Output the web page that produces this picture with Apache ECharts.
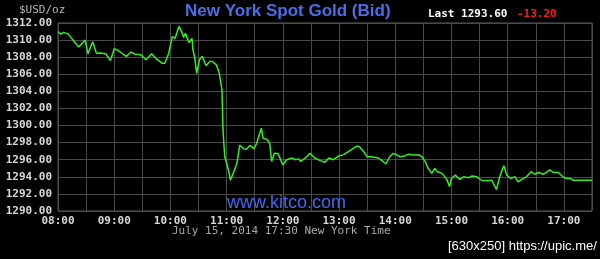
<!DOCTYPE html>
<html><head><meta charset="utf-8">
<script src="https://cdn.jsdelivr.net/npm/echarts@6/dist/echarts.min.js"></script>
<style>html,body{margin:0;padding:0;background:#000}#c{width:600px;height:259px}</style>
</head><body><div id="c"></div>
<script>
const times = ["08:00","08:03","08:06","08:11","08:16","08:22","08:25","08:29","08:32","08:37","08:41","08:45","08:51","08:56","09:00","09:04","09:09","09:13","09:18","09:22","09:28","09:30","09:34","09:40","09:45","09:51","09:54","09:58","10:00","10:02","10:05","10:09","10:12","10:14","10:16","10:18","10:20","10:23","10:24","10:26","10:28","10:31","10:34","10:38","10:42","10:45","10:49","10:52","10:54","10:55","10:56","10:57","10:58","11:02","11:04","11:07","11:11","11:12","11:14","11:18","11:21","11:25","11:29","11:32","11:36","11:37","11:39","11:43","11:46","11:48","11:51","11:55","12:00","12:04","12:10","12:13","12:17","12:19","12:24","12:29","12:34","12:40","12:45","12:49","12:54","12:59","13:05","13:12","13:19","13:22","13:26","13:30","13:35","13:42","13:47","13:50","13:54","13:58","14:02","14:05","14:09","14:14","14:19","14:25","14:28","14:32","14:35","14:39","14:42","14:45","14:50","14:55","14:58","15:00","15:04","15:09","15:13","15:18","15:22","15:27","15:32","15:38","15:43","15:45","15:48","15:51","15:54","15:56","15:59","16:03","16:08","16:11","16:15","16:20","16:25","16:29","16:33","16:38","16:45","16:49","16:54","16:59","17:03","17:07","17:10","17:30"];
const prices = [1311.0,1310.7,1310.9,1310.7,1310.0,1309.2,1309.5,1310.0,1308.4,1309.8,1308.45,1308.5,1308.4,1307.6,1309.0,1308.8,1308.4,1308.1,1308.6,1308.35,1308.3,1308.2,1307.7,1308.4,1307.8,1307.3,1307.3,1308.4,1308.6,1310.4,1310.2,1311.6,1311.0,1310.3,1310.8,1310.2,1309.7,1310.2,1308.9,1307.9,1306.1,1307.7,1308.1,1307.0,1307.5,1307.5,1307.1,1306.2,1306.1,1304.2,1299.9,1297.9,1296.35,1294.8,1293.6,1294.4,1295.6,1295.8,1297.7,1297.3,1297.2,1297.7,1297.3,1297.9,1299.3,1299.7,1298.5,1298.4,1297.9,1295.8,1296.75,1296.7,1295.4,1296.0,1296.2,1296.0,1296.1,1295.8,1296.2,1296.75,1296.2,1295.9,1295.7,1296.2,1296.0,1296.4,1296.6,1297.1,1297.6,1297.5,1297.0,1296.35,1296.35,1296.2,1295.8,1295.5,1296.35,1296.75,1296.55,1296.35,1296.4,1296.65,1296.55,1296.55,1296.4,1295.8,1295.0,1294.4,1295.0,1294.6,1294.4,1293.7,1292.85,1293.8,1294.2,1293.7,1294.0,1293.9,1294.1,1294.0,1293.6,1293.55,1293.6,1293.7,1292.5,1293.8,1294.8,1295.3,1294.2,1293.8,1294.0,1293.4,1293.7,1294.0,1294.6,1294.3,1294.5,1294.3,1294.8,1294.5,1294.5,1294.0,1293.8,1293.8,1293.6,1293.6];
const hourLabels = ["08:00","09:00","10:00","11:00","12:00","13:00","14:00","15:00","16:00","17:00"];
const yMin = 1290, yMax = 1312, yStep = 2;
const startMin = 8 * 60;
const endMin = 17 * 60 + 30;

function toMin(s){const p=s.split(':');return +p[0]*60 + +p[1];}
const data = times.map((t,i)=>[toMin(t)-startMin, prices[i]]);

const mono = '"DejaVu Sans Mono", "Liberation Mono", monospace';
const chart = echarts.init(document.getElementById('c'), null, {renderer:'canvas'});
chart.setOption({
  backgroundColor:'#000',
  animation:false,
  grid:{left:58,right:8,top:23,bottom:48,show:true,borderColor:'#5a5a5a',borderWidth:1},
  xAxis:{type:'value',min:0,max:endMin-startMin,interval:30,
    axisLine:{show:false},axisTick:{show:false},
    splitLine:{show:true,lineStyle:{color:'#4a4a4a',width:1}},
    axisLabel:{color:'#d8d8d8',fontFamily:mono,fontSize:11,fontWeight:'bold',margin:5,
      formatter:v=>{ if(v%60!==0) return ''; const idx=v/60; return hourLabels[idx]||''; },
      showMaxLabel:false}
  },
  yAxis:{type:'value',min:yMin,max:yMax,interval:yStep,
    axisLine:{show:false},axisTick:{show:false},
    splitLine:{show:true,lineStyle:{color:'#4a4a4a',width:1}},
    axisLabel:{color:'#d8d8d8',fontFamily:mono,fontSize:11,fontWeight:'bold',margin:6,
      formatter:v=>v.toFixed(2)}
  },
  series:[{type:'line',data:data,showSymbol:false,symbol:'none',
    lineStyle:{color:'#33ee22',width:1.5},z:5}],
  graphic:[
    {type:'text',left:185,top:3,style:{text:'New York Spot Gold (Bid)',fill:'#4b6ee8',font:'bold 17px "Liberation Sans", Arial, sans-serif'}},
    {type:'text',left:19,top:5,style:{text:'$USD/oz',fill:'#b8b8b8',font:'11px "DejaVu Sans Mono", monospace'}},
    {type:'text',left:428,top:9,style:{text:'Last 1293.60',fill:'#ffffff',font:'bold 11px "DejaVu Sans Mono", monospace'}},
    {type:'text',left:517,top:9,style:{text:'-13.20',fill:'#ff1a1a',font:'bold 11px "DejaVu Sans Mono", monospace'}},
    {type:'text',left:227,top:194,z:10,style:{text:'www.kitco.com',fill:'#4466ee',font:'18px "Liberation Sans", Arial, sans-serif'}},
    {type:'text',left:172,top:226,style:{text:'July 15, 2014 17:30 New York Time',fill:'#a8a8a8',font:'11px "DejaVu Sans Mono", monospace'}},
    {type:'text',x:448,y:240,style:{text:'[630x250] https://upic.me/',fill:'#ffffff',font:'13px "Liberation Sans", Arial, sans-serif'}}
  ]
});
</script></body></html>
